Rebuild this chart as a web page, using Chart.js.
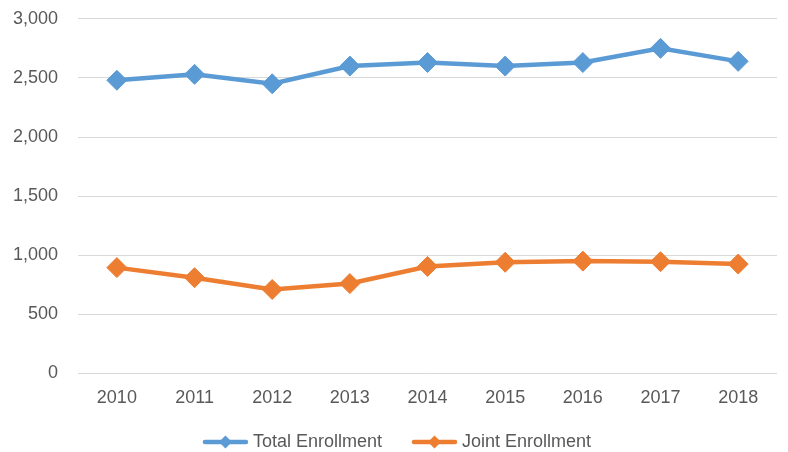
<!DOCTYPE html>
<html>
<head>
<meta charset="utf-8">
<script src="https://cdn.jsdelivr.net/npm/chart.js@4"></script>
<style>
html,body{margin:0;padding:0;background:#fff;}
#wrap{width:788px;height:452px;}
</style>
</head>
<body>
<div id="wrap"><canvas id="c" width="788" height="452"></canvas></div>
<script>
const categories = ['2010','2011','2012','2013','2014','2015','2016','2017','2018'];
const totalEnrollment = [2480, 2530, 2450, 2600, 2630, 2600, 2630, 2750, 2640];
const jointEnrollment = [895, 810, 710, 760, 905, 940, 950, 945, 925];
const seriesNames = ['Total Enrollment', 'Joint Enrollment'];
const seriesColors = ['#5B9BD5', '#ED7D31'];

const FONT = 'Liberation Sans';
const FS = 18;

const legendMarks = {
  id: 'legendMarks',
  afterLayout(chart) {
    const lg = chart.legend;
    if (lg) { lg.left -= 13; lg.right -= 13; }
  },
  afterDraw(chart) {
    const lg = chart.legend;
    if (!lg || !lg.legendHitBoxes) return;
    const ctx = chart.ctx;
    const bw = lg.options.labels.boxWidth;
    lg.legendHitBoxes.forEach((hb, i) => {
      const textX = hb.left + bw + FS / 2;
      const x1 = textX - 50, x2 = textX - 5;
      const cy = hb.top + hb.height / 2;
      const cx = (x1 + x2) / 2;
      const r = 6.5;
      ctx.save();
      ctx.strokeStyle = seriesColors[i];
      ctx.lineWidth = 4.5;
      ctx.lineCap = 'round';
      ctx.beginPath();
      ctx.moveTo(x1 + 2, cy);
      ctx.lineTo(x2 - 2, cy);
      ctx.stroke();
      ctx.fillStyle = seriesColors[i];
      ctx.beginPath();
      ctx.moveTo(cx - r, cy);
      ctx.lineTo(cx, cy - r);
      ctx.lineTo(cx + r, cy);
      ctx.lineTo(cx, cy + r);
      ctx.closePath();
      ctx.fill();
      ctx.restore();
    });
  }
};

new Chart(document.getElementById('c'), {
  type: 'line',
  data: {
    labels: categories,
    datasets: [
      { label: seriesNames[0], data: totalEnrollment, borderColor: seriesColors[0], backgroundColor: seriesColors[0],
        borderWidth: 4.5, pointStyle: 'rectRot', pointRadius: 10, pointHoverRadius: 10, pointBorderWidth: 1, tension: 0 },
      { label: seriesNames[1], data: jointEnrollment, borderColor: seriesColors[1], backgroundColor: seriesColors[1],
        borderWidth: 4.5, pointStyle: 'rectRot', pointRadius: 10, pointHoverRadius: 10, pointBorderWidth: 1, tension: 0 }
    ]
  },
  options: {
    responsive: false,
    animation: false,
    devicePixelRatio: 1,
    layout: { padding: { top: 1, right: 0, left: 5, bottom: 0 } },
    plugins: {
      tooltip: { enabled: false },
      legend: {
        position: 'bottom',
        maxHeight: 22,
        labels: {
          boxWidth: 68, boxHeight: 4, padding: 3,
          color: '#595959',
          font: { family: FONT, size: FS },
          generateLabels(chart) {
            return chart.data.datasets.map((ds, i) => ({
              text: ds.label, fillStyle: 'rgba(0,0,0,0)', strokeStyle: 'rgba(0,0,0,0)',
              lineWidth: 0, hidden: false, datasetIndex: i, fontColor: '#595959'
            }));
          }
        }
      }
    },
    scales: {
      x: {
        offset: true,
        grid: { display: false, drawTicks: false },
        border: { display: false },
        ticks: { color: '#595959', font: { family: FONT, size: FS }, padding: 14, maxRotation: 0 },
        afterFit(scale) { scale.height += 7; }
      },
      y: {
        min: 0, max: 3000,
        grid: { color: '#D9D9D9', lineWidth: 1, drawTicks: true, tickLength: 12, tickColor: 'rgba(0,0,0,0)' },
        border: { display: false },
        ticks: { stepSize: 500, color: '#595959', font: { family: FONT, size: FS }, padding: 8,
          callback: v => v.toLocaleString('en-US') }
      }
    }
  },
  plugins: [legendMarks]
});
</script>
</body>
</html>
